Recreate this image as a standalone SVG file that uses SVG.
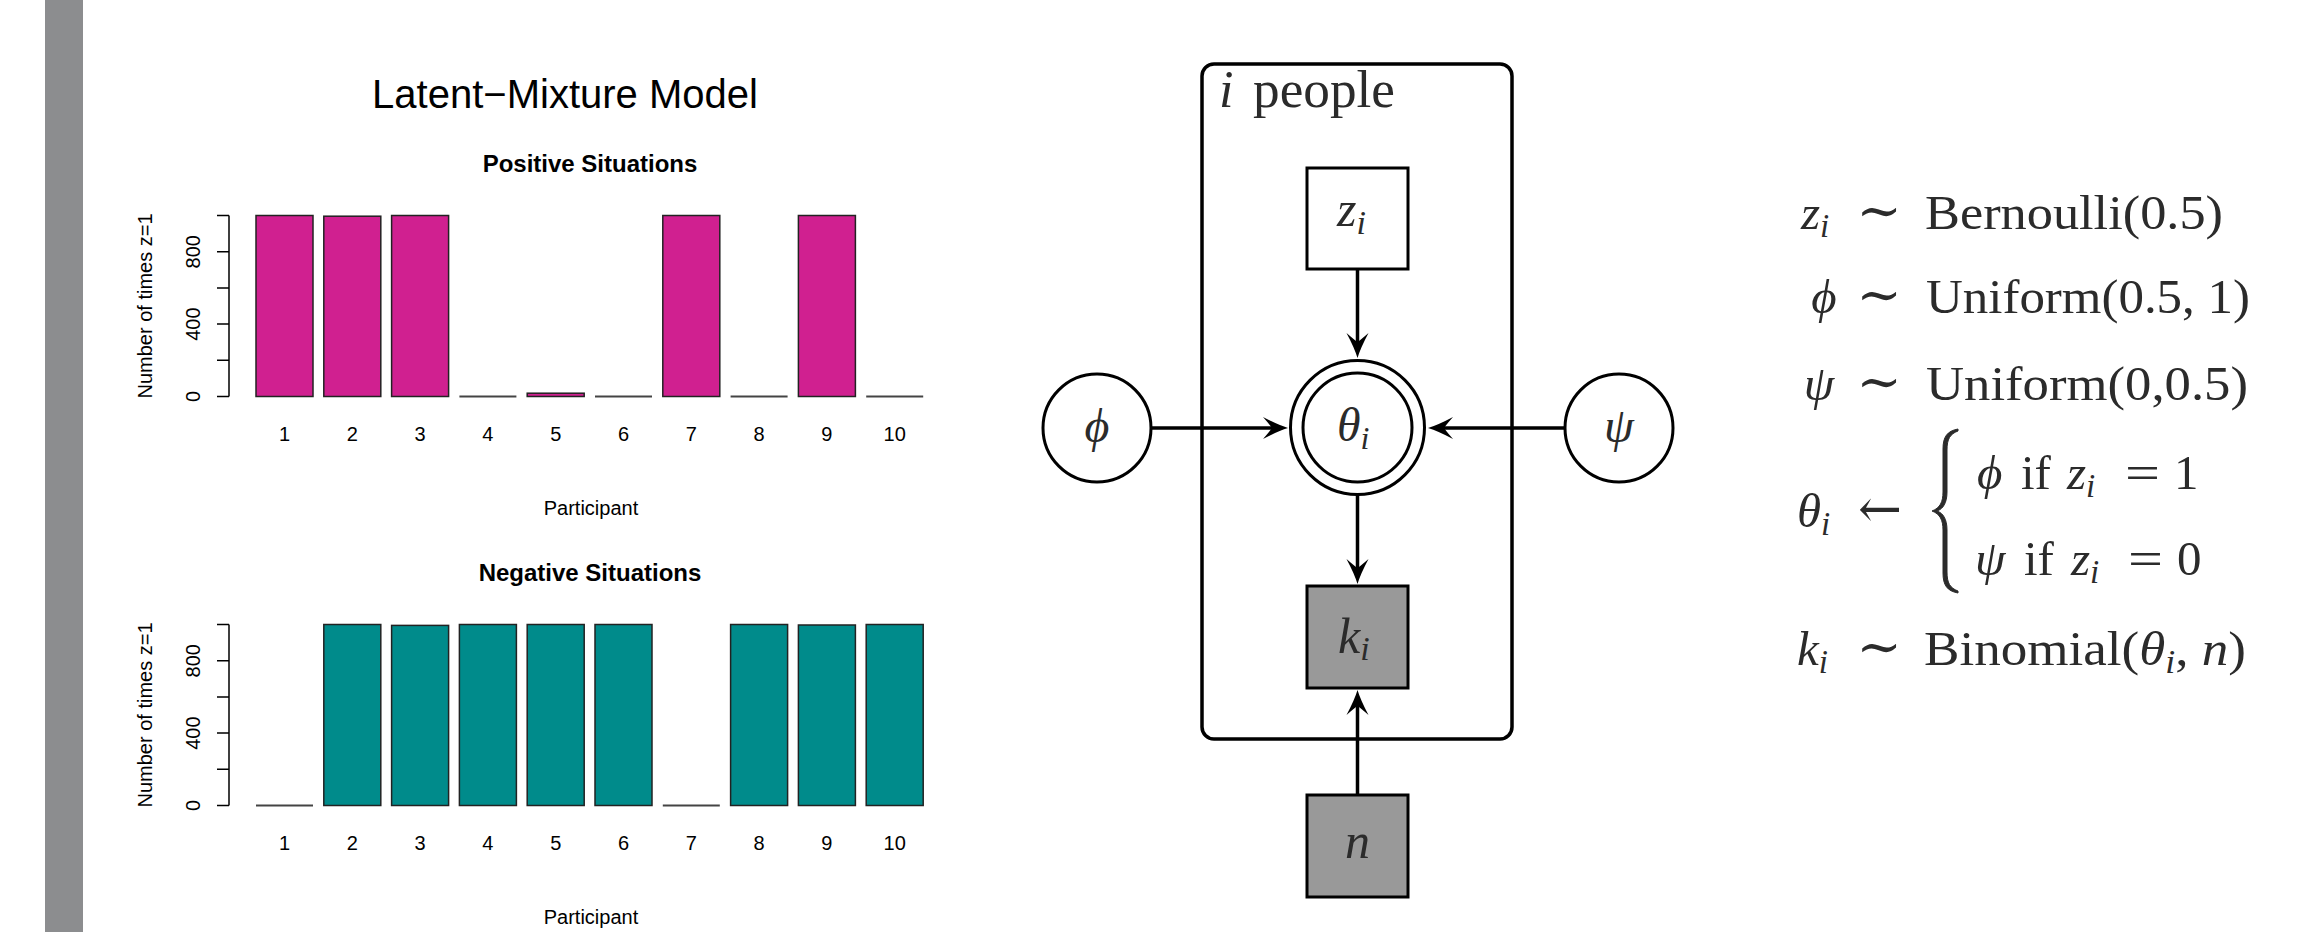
<svg xmlns="http://www.w3.org/2000/svg" width="2305" height="932" viewBox="0 0 2305 932">
<style>
.sans{font-family:"Liberation Sans",Arial,sans-serif;fill:#000}
.lab{font-size:20px}
.ttl{font-size:24px;font-weight:bold}
.axis{stroke:#000;stroke-width:1.5;fill:none}
.pos{fill:#D02090;stroke:#222;stroke-width:1.5}
.neg{fill:#008B8B;stroke:#222;stroke-width:1.5}
.zero{stroke:#444;stroke-width:2}
.math{font-family:"Liberation Serif","DejaVu Serif",serif;fill:#2b2b2b}
.it{font-style:italic}
.sym{font-family:"DejaVu Serif","Liberation Serif",serif}
.node{stroke:#000;stroke-width:3;fill:#fff}
.obs{stroke:#000;stroke-width:3;fill:#999}
.plate{stroke:#000;stroke-width:3.5;fill:none}
.edge{stroke:#000;stroke-width:3.5;fill:none;marker-end:url(#arr)}
.brace{fill:#2b2b2b;stroke:#2b2b2b;stroke-width:1}
</style>
<defs>
<marker id="arr" viewBox="-28 -12 30 24" refX="-14" refY="0" markerWidth="30" markerHeight="24" markerUnits="userSpaceOnUse" orient="auto">
<path d="M0,0 Q-10,-3 -25,-11 Q-18,-3 -16,0 Q-18,3 -25,11 Q-10,3 0,0 Z" fill="#000"/>
</marker>
</defs>
<rect width="2305" height="932" fill="#fff"/>
<rect x="45" y="0" width="38" height="932" fill="#8c8d8f"/>

<g id="chart-title">
<text class="sans" x="565" y="108" font-size="40" text-anchor="middle">Latent−Mixture Model</text>
</g>

<g id="chart-positive">
<text class="sans ttl" x="590" y="172" text-anchor="middle">Positive Situations</text>
<path class="axis" d="M229,215.5 V396.5 M217,215.5 H229 M217,251.7 H229 M217,287.9 H229 M217,324.1 H229 M217,360.3 H229 M217,396.5 H229"/>
<text class="sans lab" transform="translate(200,396.5) rotate(-90)" text-anchor="middle">0</text>
<text class="sans lab" transform="translate(200,324.1) rotate(-90)" text-anchor="middle">400</text>
<text class="sans lab" transform="translate(200,251.7) rotate(-90)" text-anchor="middle">800</text>
<text class="sans lab" transform="translate(152,306) rotate(-90)" text-anchor="middle">Number of times z=1</text>
<rect class="pos" x="256" y="215.5" width="57" height="181"/>
<rect class="pos" x="323.8" y="216.2" width="57" height="180.3"/>
<rect class="pos" x="391.6" y="215.5" width="57" height="181"/>
<line class="zero" x1="459.4" y1="396.5" x2="516.4" y2="396.5"/>
<rect class="pos" x="527.2" y="393.2" width="57" height="3.3"/>
<line class="zero" x1="595" y1="396.5" x2="652" y2="396.5"/>
<rect class="pos" x="662.8" y="215.5" width="57" height="181"/>
<line class="zero" x1="730.6" y1="396.5" x2="787.6" y2="396.5"/>
<rect class="pos" x="798.4" y="215.5" width="57" height="181"/>
<line class="zero" x1="866.2" y1="396.5" x2="923.2" y2="396.5"/>
<g class="sans lab" text-anchor="middle">
<text x="284.5" y="441">1</text><text x="352.3" y="441">2</text><text x="420.1" y="441">3</text><text x="487.9" y="441">4</text><text x="555.7" y="441">5</text><text x="623.5" y="441">6</text><text x="691.3" y="441">7</text><text x="759.1" y="441">8</text><text x="826.9" y="441">9</text><text x="894.7" y="441">10</text>
</g>
<text class="sans lab" x="591" y="515" text-anchor="middle">Participant</text>
</g>

<g id="chart-negative">
<text class="sans ttl" x="590" y="581" text-anchor="middle">Negative Situations</text>
<path class="axis" d="M229,624.5 V805.5 M217,624.5 H229 M217,660.7 H229 M217,696.9 H229 M217,733.1 H229 M217,769.3 H229 M217,805.5 H229"/>
<text class="sans lab" transform="translate(200,805.5) rotate(-90)" text-anchor="middle">0</text>
<text class="sans lab" transform="translate(200,733.1) rotate(-90)" text-anchor="middle">400</text>
<text class="sans lab" transform="translate(200,660.7) rotate(-90)" text-anchor="middle">800</text>
<text class="sans lab" transform="translate(152,715) rotate(-90)" text-anchor="middle">Number of times z=1</text>
<line class="zero" x1="256" y1="805.5" x2="313" y2="805.5"/>
<rect class="neg" x="323.8" y="624.5" width="57" height="181"/>
<rect class="neg" x="391.6" y="625.4" width="57" height="180.1"/>
<rect class="neg" x="459.4" y="624.5" width="57" height="181"/>
<rect class="neg" x="527.2" y="624.5" width="57" height="181"/>
<rect class="neg" x="595" y="624.5" width="57" height="181"/>
<line class="zero" x1="662.8" y1="805.5" x2="719.8" y2="805.5"/>
<rect class="neg" x="730.6" y="624.5" width="57" height="181"/>
<rect class="neg" x="798.4" y="625" width="57" height="180.5"/>
<rect class="neg" x="866.2" y="624.5" width="57" height="181"/>
<g class="sans lab" text-anchor="middle">
<text x="284.5" y="850">1</text><text x="352.3" y="850">2</text><text x="420.1" y="850">3</text><text x="487.9" y="850">4</text><text x="555.7" y="850">5</text><text x="623.5" y="850">6</text><text x="691.3" y="850">7</text><text x="759.1" y="850">8</text><text x="826.9" y="850">9</text><text x="894.7" y="850">10</text>
</g>
<text class="sans lab" x="591" y="924" text-anchor="middle">Participant</text>
</g>

<g id="plate">
<rect class="plate" x="1202" y="64" width="310" height="675" rx="12"/>
<text class="math" y="107" font-size="52"><tspan class="it" x="1219">i</tspan><tspan x="1253" textLength="142" lengthAdjust="spacingAndGlyphs">people</tspan></text>
</g>

<g id="connectors">
<line class="edge" x1="1151" y1="428" x2="1274" y2="428"/>
<line class="edge" x1="1565" y1="428" x2="1442" y2="428"/>
<line class="edge" x1="1357.5" y1="269" x2="1357.5" y2="344"/>
<line class="edge" x1="1357.5" y1="495" x2="1357.5" y2="570"/>
<line class="edge" x1="1357.5" y1="795" x2="1357.5" y2="704"/>
</g>

<g id="node-z">
<rect class="node" x="1307" y="168" width="101" height="101"/>
<text class="math it" x="1337" y="226" font-size="50">z<tspan font-size="34" dy="8">i</tspan></text>
</g>
<g id="node-theta">
<circle class="node" cx="1357.5" cy="427.5" r="67"/>
<circle class="node" cx="1357.5" cy="427.5" r="54.5"/>
<text class="math it" x="1337" y="441" font-size="48">θ<tspan font-size="32" dy="8">i</tspan></text>
</g>
<g id="node-phi">
<circle class="node" cx="1097" cy="428" r="54"/>
<text class="math it" x="1097" y="442" font-size="48" text-anchor="middle">ϕ</text>
</g>
<g id="node-psi">
<circle class="node" cx="1619" cy="428" r="54"/>
<text class="math it" x="1619" y="442" font-size="48" text-anchor="middle">ψ</text>
</g>
<g id="node-k">
<rect class="obs" x="1307" y="586" width="101" height="102"/>
<text class="math it" x="1338" y="653" font-size="50">k<tspan font-size="34" dy="7">i</tspan></text>
</g>
<g id="node-n">
<rect class="obs" x="1307" y="795" width="101" height="102"/>
<text class="math it" x="1357.5" y="858" font-size="50" text-anchor="middle">n</text>
</g>

<g id="equations" class="math" font-size="49">
<text class="it" x="1801" y="229">z<tspan font-size="33" dy="8">i</tspan></text>
<text class="sym" x="1879" y="229" font-size="54" text-anchor="middle">∼</text>
<text x="1925" y="229" textLength="298" lengthAdjust="spacingAndGlyphs">Bernoulli(0.5)</text>

<text class="it" x="1824" y="313" text-anchor="middle">ϕ</text>
<text class="sym" x="1879" y="313" font-size="54" text-anchor="middle">∼</text>
<text x="1926" y="313" textLength="324" lengthAdjust="spacingAndGlyphs">Uniform(0.5, 1)</text>

<text class="it" x="1819" y="400" text-anchor="middle">ψ</text>
<text class="sym" x="1879" y="400" font-size="54" text-anchor="middle">∼</text>
<text x="1926" y="400" textLength="322" lengthAdjust="spacingAndGlyphs">Uniform(0,0.5)</text>

<text class="it" x="1797" y="527">θ<tspan font-size="33" dy="8">i</tspan></text>
<text class="sym" x="1858" y="527" font-size="54" textLength="44" lengthAdjust="spacingAndGlyphs">←</text>
<path class="brace" d="M1958,429 C1947,431 1943,437 1943,449 L1943,492 C1943,502 1940,508 1932,511 C1940,514 1943,520 1943,530 L1943,573 C1943,585 1947,591 1958,593 L1958,591 C1950,588 1947,583 1947,572 L1947,530 C1947,519 1943,513 1937,511 C1943,509 1947,503 1947,492 L1947,450 C1947,439 1950,434 1958,431 Z"/>
<text x="1977" y="489"><tspan class="it">ϕ</tspan><tspan x="2021">if</tspan><tspan class="it" x="2067">z</tspan><tspan class="it" font-size="33" dy="8">i</tspan><tspan x="2125" dy="-8" textLength="35" lengthAdjust="spacingAndGlyphs">=</tspan><tspan x="2174">1</tspan></text>
<text x="1975" y="575"><tspan class="it">ψ</tspan><tspan x="2024">if</tspan><tspan class="it" x="2071">z</tspan><tspan class="it" font-size="33" dy="8">i</tspan><tspan x="2128" dy="-8" textLength="35" lengthAdjust="spacingAndGlyphs">=</tspan><tspan x="2177">0</tspan></text>

<text class="it" x="1797" y="665">k<tspan font-size="33" dy="8">i</tspan></text>
<text class="sym" x="1879" y="665" font-size="54" text-anchor="middle">∼</text>
<text x="1924" y="665" textLength="322" lengthAdjust="spacingAndGlyphs">Binomial(<tspan class="it">θ</tspan><tspan class="it" font-size="33" dy="8">i</tspan><tspan dy="-8">, </tspan><tspan class="it">n</tspan>)</text>
</g>
</svg>
